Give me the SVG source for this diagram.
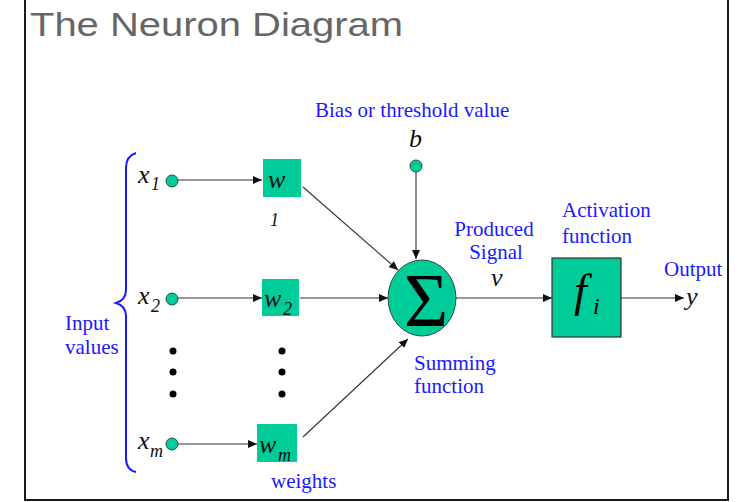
<svg xmlns="http://www.w3.org/2000/svg" width="738" height="502" viewBox="0 0 738 502">
<style>
.frame{stroke:#1a1a1a;stroke-width:2;fill:none}
.node{fill:#00CC99;stroke:#2a4a3a;stroke-width:1}
.box{fill:#00CC99}
.conn{stroke:#333;stroke-width:1.1;fill:none}
.var{font-family:"Liberation Serif",serif;font-style:italic;fill:#111;font-size:26px}
.sub{font-family:"Liberation Serif",serif;font-style:italic;fill:#111;font-size:18px}
.lbl{font-family:"Liberation Serif",serif;fill:#1a1aff;font-size:21px}
.dot{fill:#000}
</style>
<defs>
<marker id="ah" markerWidth="9" markerHeight="8" refX="9" refY="4" orient="auto" markerUnits="userSpaceOnUse">
<path d="M0,0 L9,4 L0,8 z" fill="#111"/>
</marker>
</defs>
<rect width="738" height="502" fill="#fff"/>
<path class="frame" d="M25,0 V500 H728 V0"/>
<text x="30" y="36" font-family="Liberation Sans, sans-serif" font-size="34" fill="#666" textLength="373" lengthAdjust="spacingAndGlyphs">The Neuron Diagram</text>

<g id="connectors">
<line class="conn" x1="178" y1="180" x2="262" y2="180" marker-end="url(#ah)"/>
<line class="conn" x1="178" y1="298" x2="262" y2="298" marker-end="url(#ah)"/>
<line class="conn" x1="178" y1="444" x2="257" y2="444" marker-end="url(#ah)"/>
<line class="conn" x1="303" y1="187" x2="398" y2="270" marker-end="url(#ah)"/>
<line class="conn" x1="300" y1="298" x2="388" y2="298" marker-end="url(#ah)"/>
<line class="conn" x1="303" y1="437" x2="408" y2="339" marker-end="url(#ah)"/>
<line class="conn" x1="416" y1="172" x2="416" y2="259" marker-end="url(#ah)"/>
<line class="conn" x1="456" y1="298" x2="552" y2="298" marker-end="url(#ah)"/>
<line class="conn" x1="621" y1="298" x2="684" y2="298" marker-end="url(#ah)"/>
</g>

<g id="inputs-brace">
<path d="M136,153 Q126,156 126,168 V290 Q126,300 116,303 Q126,306 126,316 V458 Q126,470 136,472" fill="none" stroke="#1a1aff" stroke-width="2"/>
<text class="lbl" x="65" y="330">Input</text>
<text class="lbl" x="65" y="354">values</text>
</g>

<g id="x1">
<circle class="node" cx="172" cy="181" r="6"/>
<text class="var" x="138" y="183">x</text><text class="sub" x="151" y="190">1</text>
</g>
<g id="x2">
<circle class="node" cx="172" cy="299" r="6"/>
<text class="var" x="138" y="304">x</text><text class="sub" x="151" y="312">2</text>
</g>
<g id="xm">
<circle class="node" cx="172" cy="444" r="6"/>
<text class="var" x="138" y="449">x</text><text class="sub" x="150" y="457">m</text>
</g>
<g id="dots">
<circle class="dot" cx="173" cy="351" r="3.5"/>
<circle class="dot" cx="173" cy="372" r="3.5"/>
<circle class="dot" cx="173" cy="394" r="3.5"/>
<circle class="dot" cx="282" cy="351" r="3.5"/>
<circle class="dot" cx="282" cy="372" r="3.5"/>
<circle class="dot" cx="282" cy="394" r="3.5"/>
</g>

<g id="w1">
<rect class="box" x="263" y="159" width="38" height="38"/>
<text class="var" x="268" y="188">w</text>
<text class="sub" x="270" y="226">1</text>
</g>
<g id="w2">
<rect class="box" x="262" y="279" width="37" height="37"/>
<text class="var" x="264" y="307">w</text><text class="sub" x="283" y="315">2</text>
</g>
<g id="wm">
<rect class="box" x="257" y="424" width="40" height="38"/>
<text class="var" x="259" y="453">w</text><text class="sub" x="278" y="461">m</text>
<text class="lbl" x="271" y="488">weights</text>
</g>

<g id="bias">
<text class="lbl" x="315" y="117">Bias or threshold value</text>
<text class="var" x="409" y="147">b</text>
<circle class="node" cx="416" cy="166" r="6"/>
</g>

<g id="sum">
<ellipse class="node" cx="422" cy="298" rx="34" ry="38" stroke="#222" stroke-width="1.5"/>
<text x="426" y="326" text-anchor="middle" font-family="Liberation Serif, serif" font-size="76" fill="#000">Σ</text>
<text class="lbl" x="414" y="370">Summing</text>
<text class="lbl" x="414" y="393">function</text>
</g>

<g id="signal">
<text class="lbl" x="494" y="236" text-anchor="middle">Produced</text>
<text class="lbl" x="496" y="259" text-anchor="middle">Signal</text>
<text class="var" x="491" y="286" font-size="24">v</text>
</g>

<g id="activation">
<rect x="552" y="258" width="69" height="79" fill="#00CC99" stroke="#333" stroke-width="1.2"/>
<text x="574" y="306" font-family="Liberation Serif, serif" font-style="italic" font-size="46" fill="#000">f</text>
<text x="593" y="314" font-family="Liberation Serif, serif" font-style="italic" font-size="24" fill="#000">i</text>
<text class="lbl" x="562" y="217">Activation</text>
<text class="lbl" x="562" y="243">function</text>
</g>

<g id="output">
<text class="lbl" x="664" y="276">Output</text>
<text class="var" x="686" y="305">y</text>
</g>
</svg>
